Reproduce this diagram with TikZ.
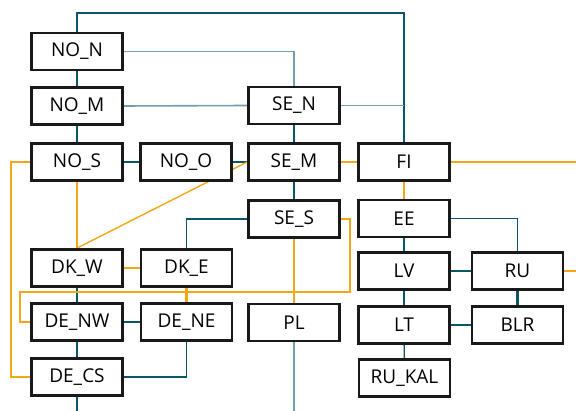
\documentclass[tikz,border=0pt]{standalone}
\usepackage{fontspec}
\setmainfont{Open Sans}
\definecolor{teal1}{RGB}{10,85,102}
\definecolor{teal2}{RGB}{110,160,174}
\definecolor{orng}{RGB}{245,166,20}
\pgfdeclarelayer{bg}
\pgfsetlayers{bg,main}
\begin{document}
\begin{tikzpicture}[x=1pt,y=-1pt,
  box/.style={draw=black!90,line width=2.8pt,fill=white,minimum width=91pt,minimum height=37pt,inner sep=0pt,font=\fontsize{19}{21}\selectfont},
  tk/.style={draw=teal1,line width=2.6pt},
  tn/.style={draw=teal1,line width=1.4pt},
  tl/.style={draw=teal2,line width=1.6pt},
  ok/.style={draw=orng,line width=2.6pt},
  on/.style={draw=orng,line width=1.4pt}]
\useasboundingbox (0,0) rectangle (576,411);
\node[box] (NON) at (77,51.5) {NO\_N};
\node[box] (NOM) at (77,106) {NO\_M};
\node[box] (NOS) at (77,162) {NO\_S};
\node[box] (NOO) at (186,162) {NO\_O};
\node[box] (SEN) at (294,105.5) {SE\_N};
\node[box] (SEM) at (294,162) {SE\_M};
\node[box] (FI) at (404,162) {FI};
\node[box] (SES) at (294,219) {SE\_S};
\node[box] (EE) at (404,218.5) {EE};
\node[box] (DKW) at (77,268) {DK\_W};
\node[box] (DKE) at (186.5,268) {DK\_E};
\node[box] (DENW) at (77,322) {DE\_NW};
\node[box] (DENE) at (186.5,322) {DE\_NE};
\node[box] (PL) at (294,322.5) {PL};
\node[box] (DECS) at (77,377) {DE\_CS};
\node[box] (LV) at (404,271) {LV};
\node[box] (RU) at (517.5,271) {RU};
\node[box] (LT) at (404,325) {LT};
\node[box] (BLR) at (517.5,325) {BLR};
\node[box] (RUKAL) at (404.5,378) {RU\_KAL};
\coordinate (top) at (77,13);
\coordinate (fiR) at (576,162);
\coordinate (ruR) at (576,271);
\coordinate (csB) at (77,411);
\coordinate (plB) at (294,411);
\coordinate (ssR) at (350,219);
\coordinate (ssD) at (350,292);
\coordinate (lft) at (20,292);
\coordinate (lft2) at (11,162);
\begin{pgfonlayer}{bg}
\draw[tn] (NON.north) -- (top) -| (FI.north);
\draw[tl] (NON.east) -| (SEN.north);
\draw[tk] (NON) -- (NOM);
\draw[tl] (NOM.east) -- (SEN.west);
\draw[tn] (NOM) -- (NOS);
\draw[tk] (NOS) -- (NOO);
\draw[tk] (NOO) -- (SEM);
\draw[tk] (SEN) -- (SEM);
\draw[tl] (SEN.east) -- (SEN.east -| FI.north);
\draw[ok] (SEM) -- (FI);
\draw[on] (FI.east) -- (fiR);
\draw[ok] (FI) -- (EE);
\draw[tk] (SEM) -- (SES);
\draw[on] (SEM.west) -- (DKW.north);
\draw[on] (NOS.west) -- (lft2) |- (DECS.west);
\draw[on] (NOS.south) -- (DKW.north);
\draw[ok] (DKW) -- (DKE);
\draw[tn] (SES.west) -| (DKE.north);
\draw[tk] (DKW) -- (DENW);
\draw[ok] (DKE) -- (DENE);
\draw[on] (SES.east) -- (ssR) -- (ssD) -- (lft) |- (DENW.west);
\draw[ok] (SES) -- (PL);
\draw[tk] (DENW) -- (DENE);
\draw[tn] (DENW) -- (DECS);
\draw[tn] (DENE.south) |- (DECS.east);
\draw[tn] (DECS.south) -- (csB);
\draw[tl] (PL.south) -- (plB);
\draw[tn] (EE.east) -| (RU.north);
\draw[tk] (EE) -- (LV);
\draw[tk] (LV) -- (RU);
\draw[on] (RU.east) -- (ruR);
\draw[tk] (LV) -- (LT);
\draw[tk] (RU) -- (BLR);
\draw[tk] (LT) -- (BLR);
\draw[tn] (LT) -- (RUKAL);
\end{pgfonlayer}
\end{tikzpicture}
\end{document}
